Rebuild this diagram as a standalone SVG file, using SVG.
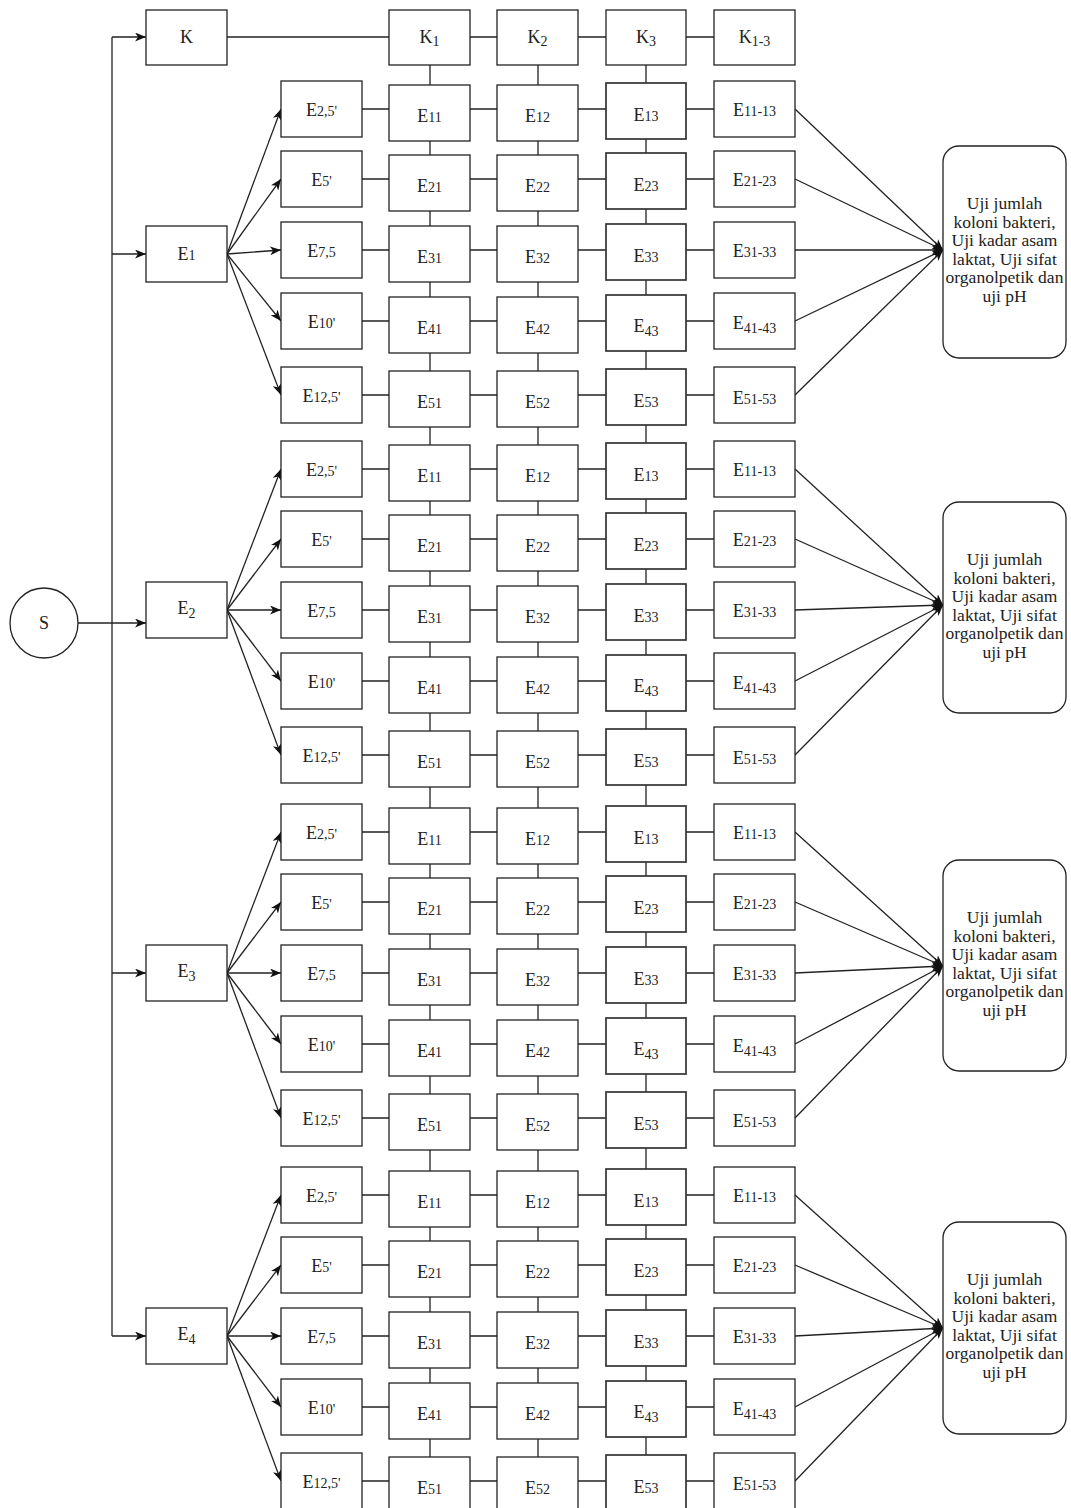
<svg xmlns="http://www.w3.org/2000/svg" width="1071" height="1508" viewBox="0 0 1071 1508">
<style>
.b{fill:#fff;stroke:#222;stroke-width:1.3}
.d{fill:#fff;stroke:#333;stroke-width:1.7}
.r{fill:#fff;stroke:#222;stroke-width:1.3}
.t{font-family:"Liberation Serif","Times New Roman",serif;font-size:18px;fill:#222;text-anchor:middle}
.s{font-size:14px}
.u{font-family:"Liberation Serif","Times New Roman",serif;font-size:17.5px;fill:#222;text-anchor:middle}
.c{stroke:#222;stroke-width:1.3;fill:none}
.a{marker-end:url(#ah)}
</style>
<defs>
<marker id="ah" viewBox="0 0 11 9" refX="11" refY="4.5" markerWidth="11" markerHeight="9" markerUnits="userSpaceOnUse" orient="auto"><path d="M0,0 L11,4.5 L0,9 L3,4.5 Z" fill="#111"/></marker>
</defs>
<rect width="1071" height="1508" fill="#fff"/>
<g id="connectors">
<path class="c" d="M112,37 V1336"/>
<path class="c a" d="M112,37 H146"/>
<path class="c a" d="M112,254 H146"/>
<path class="c a" d="M78,623 H146"/>
<path class="c a" d="M112,973 H146"/>
<path class="c a" d="M112,1336 H146"/>
<path class="c" d="M227,37 H714"/>
<path class="c" d="M430,65 V1508 M538,65 V1508 M646,65 V1508"/>
<path class="c" d="M362,109 H714 M362,179 H714 M362,250 H714 M362,321 H714 M362,395 H714"/>
<path class="c" d="M362,469 H714 M362,539 H714 M362,610 H714 M362,681 H714 M362,755 H714"/>
<path class="c" d="M362,832 H714 M362,902 H714 M362,973 H714 M362,1044 H714 M362,1118 H714"/>
<path class="c" d="M362,1195 H714 M362,1265 H714 M362,1336 H714 M362,1407 H714 M362,1481 H714"/>
<path class="c a" d="M227,254 L281,109"/><path class="c a" d="M227,254 L281,179"/><path class="c a" d="M227,254 L281,250"/><path class="c a" d="M227,254 L281,321"/><path class="c a" d="M227,254 L281,395"/>
<path class="c a" d="M227,610 L281,469"/><path class="c a" d="M227,610 L281,539"/><path class="c a" d="M227,610 L281,610"/><path class="c a" d="M227,610 L281,681"/><path class="c a" d="M227,610 L281,755"/>
<path class="c a" d="M227,973 L281,832"/><path class="c a" d="M227,973 L281,902"/><path class="c a" d="M227,973 L281,973"/><path class="c a" d="M227,973 L281,1044"/><path class="c a" d="M227,973 L281,1118"/>
<path class="c a" d="M227,1336 L281,1195"/><path class="c a" d="M227,1336 L281,1265"/><path class="c a" d="M227,1336 L281,1336"/><path class="c a" d="M227,1336 L281,1407"/><path class="c a" d="M227,1336 L281,1481"/>
<path class="c a" d="M795,109 L943,250"/><path class="c a" d="M795,179 L943,250"/><path class="c a" d="M795,250 L943,250"/><path class="c a" d="M795,321 L943,250"/><path class="c a" d="M795,395 L943,250"/>
<path class="c a" d="M795,469 L943,605"/><path class="c a" d="M795,539 L943,605"/><path class="c a" d="M795,610 L943,605"/><path class="c a" d="M795,681 L943,605"/><path class="c a" d="M795,755 L943,605"/>
<path class="c a" d="M795,832 L943,966"/><path class="c a" d="M795,902 L943,966"/><path class="c a" d="M795,973 L943,966"/><path class="c a" d="M795,1044 L943,966"/><path class="c a" d="M795,1118 L943,966"/>
<path class="c a" d="M795,1195 L943,1328"/><path class="c a" d="M795,1265 L943,1328"/><path class="c a" d="M795,1336 L943,1328"/><path class="c a" d="M795,1407 L943,1328"/><path class="c a" d="M795,1481 L943,1328"/>
</g>
<g id="S"><ellipse cx="44" cy="623" rx="34" ry="35" class="b"/><text class="t" x="44" y="629">S</text></g>
<g id="K"><rect class="b" x="146" y="10" width="81" height="55"/><text class="t" x="186.5" y="43">K</text></g>
<g id="K1"><rect class="b" x="389" y="10" width="81" height="55"/><text class="t" x="429.5" y="43">K<tspan class="s" dy="3">1</tspan></text></g>
<g id="K2"><rect class="b" x="497" y="10" width="81" height="55"/><text class="t" x="537.5" y="43">K<tspan class="s" dy="3">2</tspan></text></g>
<g id="K3"><rect class="b" x="606" y="10" width="80" height="55"/><text class="t" x="646" y="43">K<tspan class="s" dy="3">3</tspan></text></g>
<g id="K1-3"><rect class="b" x="714" y="10" width="81" height="55"/><text class="t" x="754.5" y="43">K<tspan class="s" dy="3">1-3</tspan></text></g>
<g id="E1"><rect class="b" x="146" y="226" width="81" height="56"/><text class="t" x="186.5" y="260">E<tspan class="s">1</tspan></text></g>
<g id="E2"><rect class="b" x="146" y="582" width="81" height="56"/><text class="t" x="186.5" y="614">E<tspan class="s" dy="4">2</tspan></text></g>
<g id="E3"><rect class="b" x="146" y="945" width="81" height="56"/><text class="t" x="186.5" y="977">E<tspan class="s" dy="4">3</tspan></text></g>
<g id="E4"><rect class="b" x="146" y="1308" width="81" height="56"/><text class="t" x="186.5" y="1340">E<tspan class="s" dy="4">4</tspan></text></g>
<g id="group1">
<g id="g1-r1a"><rect class="b" x="281" y="81" width="81" height="56"/><text class="t" x="321.5" y="116">E<tspan class="s">2,5'</tspan></text></g>
<g id="g1-r1b"><rect class="b" x="389" y="85" width="81" height="56"/><text class="t" x="429.5" y="122">E<tspan class="s">11</tspan></text></g>
<g id="g1-r1c"><rect class="b" x="497" y="85" width="81" height="56"/><text class="t" x="537.5" y="122">E<tspan class="s">12</tspan></text></g>
<g id="g1-r1d"><rect class="d" x="606" y="83" width="80" height="56"/><text class="t" x="646" y="120.5">E<tspan class="s">13</tspan></text></g>
<g id="g1-r1e"><rect class="b" x="714" y="81" width="81" height="56"/><text class="t" x="754.5" y="116">E<tspan class="s">11-13</tspan></text></g>
<g id="g1-r2a"><rect class="b" x="281" y="151" width="81" height="56"/><text class="t" x="321.5" y="186">E<tspan class="s">5'</tspan></text></g>
<g id="g1-r2b"><rect class="b" x="389" y="155" width="81" height="56"/><text class="t" x="429.5" y="192">E<tspan class="s">21</tspan></text></g>
<g id="g1-r2c"><rect class="b" x="497" y="155" width="81" height="56"/><text class="t" x="537.5" y="192">E<tspan class="s">22</tspan></text></g>
<g id="g1-r2d"><rect class="d" x="606" y="153" width="80" height="56"/><text class="t" x="646" y="190.5">E<tspan class="s">23</tspan></text></g>
<g id="g1-r2e"><rect class="b" x="714" y="151" width="81" height="56"/><text class="t" x="754.5" y="186">E<tspan class="s">21-23</tspan></text></g>
<g id="g1-r3a"><rect class="b" x="281" y="222" width="81" height="56"/><text class="t" x="321.5" y="257">E<tspan class="s">7,5</tspan></text></g>
<g id="g1-r3b"><rect class="b" x="389" y="226" width="81" height="56"/><text class="t" x="429.5" y="263">E<tspan class="s">31</tspan></text></g>
<g id="g1-r3c"><rect class="b" x="497" y="226" width="81" height="56"/><text class="t" x="537.5" y="263">E<tspan class="s">32</tspan></text></g>
<g id="g1-r3d"><rect class="d" x="606" y="224" width="80" height="56"/><text class="t" x="646" y="261.5">E<tspan class="s">33</tspan></text></g>
<g id="g1-r3e"><rect class="b" x="714" y="222" width="81" height="56"/><text class="t" x="754.5" y="257">E<tspan class="s">31-33</tspan></text></g>
<g id="g1-r4a"><rect class="b" x="281" y="293" width="81" height="56"/><text class="t" x="321.5" y="328">E<tspan class="s">10'</tspan></text></g>
<g id="g1-r4b"><rect class="b" x="389" y="297" width="81" height="56"/><text class="t" x="429.5" y="334">E<tspan class="s">41</tspan></text></g>
<g id="g1-r4c"><rect class="b" x="497" y="297" width="81" height="56"/><text class="t" x="537.5" y="334">E<tspan class="s">42</tspan></text></g>
<g id="g1-r4d"><rect class="d" x="606" y="295" width="80" height="56"/><text class="t" x="646" y="332">E<tspan class="s" dy="4">43</tspan></text></g>
<g id="g1-r4e"><rect class="b" x="714" y="293" width="81" height="56"/><text class="t" x="754.5" y="329">E<tspan class="s" dy="4">41-43</tspan></text></g>
<g id="g1-r5a"><rect class="b" x="281" y="367" width="81" height="56"/><text class="t" x="321.5" y="402">E<tspan class="s">12,5'</tspan></text></g>
<g id="g1-r5b"><rect class="b" x="389" y="371" width="81" height="56"/><text class="t" x="429.5" y="408">E<tspan class="s">51</tspan></text></g>
<g id="g1-r5c"><rect class="b" x="497" y="371" width="81" height="56"/><text class="t" x="537.5" y="408">E<tspan class="s">52</tspan></text></g>
<g id="g1-r5d"><rect class="d" x="606" y="369" width="80" height="56"/><text class="t" x="646" y="406.5">E<tspan class="s">53</tspan></text></g>
<g id="g1-r5e"><rect class="b" x="714" y="367" width="81" height="56"/><text class="t" x="754.5" y="404">E<tspan class="s">51-53</tspan></text></g>
</g>
<g id="group2" transform="translate(0,360)">
<g id="g2-r1a"><rect class="b" x="281" y="81" width="81" height="56"/><text class="t" x="321.5" y="116">E<tspan class="s">2,5'</tspan></text></g>
<g id="g2-r1b"><rect class="b" x="389" y="85" width="81" height="56"/><text class="t" x="429.5" y="122">E<tspan class="s">11</tspan></text></g>
<g id="g2-r1c"><rect class="b" x="497" y="85" width="81" height="56"/><text class="t" x="537.5" y="122">E<tspan class="s">12</tspan></text></g>
<g id="g2-r1d"><rect class="d" x="606" y="83" width="80" height="56"/><text class="t" x="646" y="120.5">E<tspan class="s">13</tspan></text></g>
<g id="g2-r1e"><rect class="b" x="714" y="81" width="81" height="56"/><text class="t" x="754.5" y="116">E<tspan class="s">11-13</tspan></text></g>
<g id="g2-r2a"><rect class="b" x="281" y="151" width="81" height="56"/><text class="t" x="321.5" y="186">E<tspan class="s">5'</tspan></text></g>
<g id="g2-r2b"><rect class="b" x="389" y="155" width="81" height="56"/><text class="t" x="429.5" y="192">E<tspan class="s">21</tspan></text></g>
<g id="g2-r2c"><rect class="b" x="497" y="155" width="81" height="56"/><text class="t" x="537.5" y="192">E<tspan class="s">22</tspan></text></g>
<g id="g2-r2d"><rect class="d" x="606" y="153" width="80" height="56"/><text class="t" x="646" y="190.5">E<tspan class="s">23</tspan></text></g>
<g id="g2-r2e"><rect class="b" x="714" y="151" width="81" height="56"/><text class="t" x="754.5" y="186">E<tspan class="s">21-23</tspan></text></g>
<g id="g2-r3a"><rect class="b" x="281" y="222" width="81" height="56"/><text class="t" x="321.5" y="257">E<tspan class="s">7,5</tspan></text></g>
<g id="g2-r3b"><rect class="b" x="389" y="226" width="81" height="56"/><text class="t" x="429.5" y="263">E<tspan class="s">31</tspan></text></g>
<g id="g2-r3c"><rect class="b" x="497" y="226" width="81" height="56"/><text class="t" x="537.5" y="263">E<tspan class="s">32</tspan></text></g>
<g id="g2-r3d"><rect class="d" x="606" y="224" width="80" height="56"/><text class="t" x="646" y="261.5">E<tspan class="s">33</tspan></text></g>
<g id="g2-r3e"><rect class="b" x="714" y="222" width="81" height="56"/><text class="t" x="754.5" y="257">E<tspan class="s">31-33</tspan></text></g>
<g id="g2-r4a"><rect class="b" x="281" y="293" width="81" height="56"/><text class="t" x="321.5" y="328">E<tspan class="s">10'</tspan></text></g>
<g id="g2-r4b"><rect class="b" x="389" y="297" width="81" height="56"/><text class="t" x="429.5" y="334">E<tspan class="s">41</tspan></text></g>
<g id="g2-r4c"><rect class="b" x="497" y="297" width="81" height="56"/><text class="t" x="537.5" y="334">E<tspan class="s">42</tspan></text></g>
<g id="g2-r4d"><rect class="d" x="606" y="295" width="80" height="56"/><text class="t" x="646" y="332">E<tspan class="s" dy="4">43</tspan></text></g>
<g id="g2-r4e"><rect class="b" x="714" y="293" width="81" height="56"/><text class="t" x="754.5" y="329">E<tspan class="s" dy="4">41-43</tspan></text></g>
<g id="g2-r5a"><rect class="b" x="281" y="367" width="81" height="56"/><text class="t" x="321.5" y="402">E<tspan class="s">12,5'</tspan></text></g>
<g id="g2-r5b"><rect class="b" x="389" y="371" width="81" height="56"/><text class="t" x="429.5" y="408">E<tspan class="s">51</tspan></text></g>
<g id="g2-r5c"><rect class="b" x="497" y="371" width="81" height="56"/><text class="t" x="537.5" y="408">E<tspan class="s">52</tspan></text></g>
<g id="g2-r5d"><rect class="d" x="606" y="369" width="80" height="56"/><text class="t" x="646" y="406.5">E<tspan class="s">53</tspan></text></g>
<g id="g2-r5e"><rect class="b" x="714" y="367" width="81" height="56"/><text class="t" x="754.5" y="404">E<tspan class="s">51-53</tspan></text></g>
</g>
<g id="group3" transform="translate(0,723)">
<g id="g3-r1a"><rect class="b" x="281" y="81" width="81" height="56"/><text class="t" x="321.5" y="116">E<tspan class="s">2,5'</tspan></text></g>
<g id="g3-r1b"><rect class="b" x="389" y="85" width="81" height="56"/><text class="t" x="429.5" y="122">E<tspan class="s">11</tspan></text></g>
<g id="g3-r1c"><rect class="b" x="497" y="85" width="81" height="56"/><text class="t" x="537.5" y="122">E<tspan class="s">12</tspan></text></g>
<g id="g3-r1d"><rect class="d" x="606" y="83" width="80" height="56"/><text class="t" x="646" y="120.5">E<tspan class="s">13</tspan></text></g>
<g id="g3-r1e"><rect class="b" x="714" y="81" width="81" height="56"/><text class="t" x="754.5" y="116">E<tspan class="s">11-13</tspan></text></g>
<g id="g3-r2a"><rect class="b" x="281" y="151" width="81" height="56"/><text class="t" x="321.5" y="186">E<tspan class="s">5'</tspan></text></g>
<g id="g3-r2b"><rect class="b" x="389" y="155" width="81" height="56"/><text class="t" x="429.5" y="192">E<tspan class="s">21</tspan></text></g>
<g id="g3-r2c"><rect class="b" x="497" y="155" width="81" height="56"/><text class="t" x="537.5" y="192">E<tspan class="s">22</tspan></text></g>
<g id="g3-r2d"><rect class="d" x="606" y="153" width="80" height="56"/><text class="t" x="646" y="190.5">E<tspan class="s">23</tspan></text></g>
<g id="g3-r2e"><rect class="b" x="714" y="151" width="81" height="56"/><text class="t" x="754.5" y="186">E<tspan class="s">21-23</tspan></text></g>
<g id="g3-r3a"><rect class="b" x="281" y="222" width="81" height="56"/><text class="t" x="321.5" y="257">E<tspan class="s">7,5</tspan></text></g>
<g id="g3-r3b"><rect class="b" x="389" y="226" width="81" height="56"/><text class="t" x="429.5" y="263">E<tspan class="s">31</tspan></text></g>
<g id="g3-r3c"><rect class="b" x="497" y="226" width="81" height="56"/><text class="t" x="537.5" y="263">E<tspan class="s">32</tspan></text></g>
<g id="g3-r3d"><rect class="d" x="606" y="224" width="80" height="56"/><text class="t" x="646" y="261.5">E<tspan class="s">33</tspan></text></g>
<g id="g3-r3e"><rect class="b" x="714" y="222" width="81" height="56"/><text class="t" x="754.5" y="257">E<tspan class="s">31-33</tspan></text></g>
<g id="g3-r4a"><rect class="b" x="281" y="293" width="81" height="56"/><text class="t" x="321.5" y="328">E<tspan class="s">10'</tspan></text></g>
<g id="g3-r4b"><rect class="b" x="389" y="297" width="81" height="56"/><text class="t" x="429.5" y="334">E<tspan class="s">41</tspan></text></g>
<g id="g3-r4c"><rect class="b" x="497" y="297" width="81" height="56"/><text class="t" x="537.5" y="334">E<tspan class="s">42</tspan></text></g>
<g id="g3-r4d"><rect class="d" x="606" y="295" width="80" height="56"/><text class="t" x="646" y="332">E<tspan class="s" dy="4">43</tspan></text></g>
<g id="g3-r4e"><rect class="b" x="714" y="293" width="81" height="56"/><text class="t" x="754.5" y="329">E<tspan class="s" dy="4">41-43</tspan></text></g>
<g id="g3-r5a"><rect class="b" x="281" y="367" width="81" height="56"/><text class="t" x="321.5" y="402">E<tspan class="s">12,5'</tspan></text></g>
<g id="g3-r5b"><rect class="b" x="389" y="371" width="81" height="56"/><text class="t" x="429.5" y="408">E<tspan class="s">51</tspan></text></g>
<g id="g3-r5c"><rect class="b" x="497" y="371" width="81" height="56"/><text class="t" x="537.5" y="408">E<tspan class="s">52</tspan></text></g>
<g id="g3-r5d"><rect class="d" x="606" y="369" width="80" height="56"/><text class="t" x="646" y="406.5">E<tspan class="s">53</tspan></text></g>
<g id="g3-r5e"><rect class="b" x="714" y="367" width="81" height="56"/><text class="t" x="754.5" y="404">E<tspan class="s">51-53</tspan></text></g>
</g>
<g id="group4" transform="translate(0,1086)">
<g id="g4-r1a"><rect class="b" x="281" y="81" width="81" height="56"/><text class="t" x="321.5" y="116">E<tspan class="s">2,5'</tspan></text></g>
<g id="g4-r1b"><rect class="b" x="389" y="85" width="81" height="56"/><text class="t" x="429.5" y="122">E<tspan class="s">11</tspan></text></g>
<g id="g4-r1c"><rect class="b" x="497" y="85" width="81" height="56"/><text class="t" x="537.5" y="122">E<tspan class="s">12</tspan></text></g>
<g id="g4-r1d"><rect class="d" x="606" y="83" width="80" height="56"/><text class="t" x="646" y="120.5">E<tspan class="s">13</tspan></text></g>
<g id="g4-r1e"><rect class="b" x="714" y="81" width="81" height="56"/><text class="t" x="754.5" y="116">E<tspan class="s">11-13</tspan></text></g>
<g id="g4-r2a"><rect class="b" x="281" y="151" width="81" height="56"/><text class="t" x="321.5" y="186">E<tspan class="s">5'</tspan></text></g>
<g id="g4-r2b"><rect class="b" x="389" y="155" width="81" height="56"/><text class="t" x="429.5" y="192">E<tspan class="s">21</tspan></text></g>
<g id="g4-r2c"><rect class="b" x="497" y="155" width="81" height="56"/><text class="t" x="537.5" y="192">E<tspan class="s">22</tspan></text></g>
<g id="g4-r2d"><rect class="d" x="606" y="153" width="80" height="56"/><text class="t" x="646" y="190.5">E<tspan class="s">23</tspan></text></g>
<g id="g4-r2e"><rect class="b" x="714" y="151" width="81" height="56"/><text class="t" x="754.5" y="186">E<tspan class="s">21-23</tspan></text></g>
<g id="g4-r3a"><rect class="b" x="281" y="222" width="81" height="56"/><text class="t" x="321.5" y="257">E<tspan class="s">7,5</tspan></text></g>
<g id="g4-r3b"><rect class="b" x="389" y="226" width="81" height="56"/><text class="t" x="429.5" y="263">E<tspan class="s">31</tspan></text></g>
<g id="g4-r3c"><rect class="b" x="497" y="226" width="81" height="56"/><text class="t" x="537.5" y="263">E<tspan class="s">32</tspan></text></g>
<g id="g4-r3d"><rect class="d" x="606" y="224" width="80" height="56"/><text class="t" x="646" y="261.5">E<tspan class="s">33</tspan></text></g>
<g id="g4-r3e"><rect class="b" x="714" y="222" width="81" height="56"/><text class="t" x="754.5" y="257">E<tspan class="s">31-33</tspan></text></g>
<g id="g4-r4a"><rect class="b" x="281" y="293" width="81" height="56"/><text class="t" x="321.5" y="328">E<tspan class="s">10'</tspan></text></g>
<g id="g4-r4b"><rect class="b" x="389" y="297" width="81" height="56"/><text class="t" x="429.5" y="334">E<tspan class="s">41</tspan></text></g>
<g id="g4-r4c"><rect class="b" x="497" y="297" width="81" height="56"/><text class="t" x="537.5" y="334">E<tspan class="s">42</tspan></text></g>
<g id="g4-r4d"><rect class="d" x="606" y="295" width="80" height="56"/><text class="t" x="646" y="332">E<tspan class="s" dy="4">43</tspan></text></g>
<g id="g4-r4e"><rect class="b" x="714" y="293" width="81" height="56"/><text class="t" x="754.5" y="329">E<tspan class="s" dy="4">41-43</tspan></text></g>
<g id="g4-r5a"><rect class="b" x="281" y="367" width="81" height="56"/><text class="t" x="321.5" y="402">E<tspan class="s">12,5'</tspan></text></g>
<g id="g4-r5b"><rect class="b" x="389" y="371" width="81" height="56"/><text class="t" x="429.5" y="408">E<tspan class="s">51</tspan></text></g>
<g id="g4-r5c"><rect class="b" x="497" y="371" width="81" height="56"/><text class="t" x="537.5" y="408">E<tspan class="s">52</tspan></text></g>
<g id="g4-r5d"><rect class="d" x="606" y="369" width="80" height="56"/><text class="t" x="646" y="406.5">E<tspan class="s">53</tspan></text></g>
<g id="g4-r5e"><rect class="b" x="714" y="367" width="81" height="56"/><text class="t" x="754.5" y="404">E<tspan class="s">51-53</tspan></text></g>
</g>
<g id="test1"><rect class="r" x="943" y="146" width="123" height="212" rx="16"/><text class="u" x="1004.5"><tspan x="1004.5" y="209">Uji jumlah</tspan><tspan x="1004.5" y="227.5">koloni bakteri,</tspan><tspan x="1004.5" y="246">Uji kadar asam</tspan><tspan x="1004.5" y="264.5">laktat, Uji sifat</tspan><tspan x="1004.5" y="283">organolpetik dan</tspan><tspan x="1004.5" y="301.5">uji pH</tspan></text></g>
<g id="test2"><rect class="r" x="943" y="502" width="123" height="211" rx="16"/><text class="u" x="1004.5"><tspan x="1004.5" y="565">Uji jumlah</tspan><tspan x="1004.5" y="583.5">koloni bakteri,</tspan><tspan x="1004.5" y="602">Uji kadar asam</tspan><tspan x="1004.5" y="620.5">laktat, Uji sifat</tspan><tspan x="1004.5" y="639">organolpetik dan</tspan><tspan x="1004.5" y="657.5">uji pH</tspan></text></g>
<g id="test3"><rect class="r" x="943" y="860" width="123" height="211" rx="16"/><text class="u" x="1004.5"><tspan x="1004.5" y="923">Uji jumlah</tspan><tspan x="1004.5" y="941.5">koloni bakteri,</tspan><tspan x="1004.5" y="960">Uji kadar asam</tspan><tspan x="1004.5" y="978.5">laktat, Uji sifat</tspan><tspan x="1004.5" y="997">organolpetik dan</tspan><tspan x="1004.5" y="1015.5">uji pH</tspan></text></g>
<g id="test4"><rect class="r" x="943" y="1222" width="123" height="212" rx="16"/><text class="u" x="1004.5"><tspan x="1004.5" y="1285">Uji jumlah</tspan><tspan x="1004.5" y="1303.5">koloni bakteri,</tspan><tspan x="1004.5" y="1322">Uji kadar asam</tspan><tspan x="1004.5" y="1340.5">laktat, Uji sifat</tspan><tspan x="1004.5" y="1359">organolpetik dan</tspan><tspan x="1004.5" y="1377.5">uji pH</tspan></text></g>
</svg>
